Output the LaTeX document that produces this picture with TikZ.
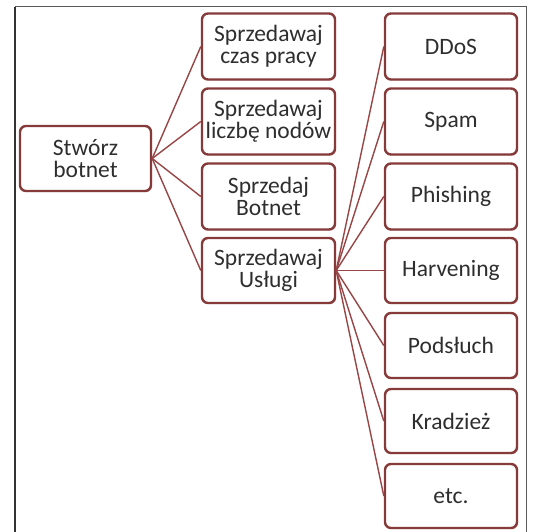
\documentclass[tikz,border=0pt]{standalone}
\usepackage{fontspec}
\setmainfont{Carlito}
\usetikzlibrary{shadows}
\definecolor{boxred}{HTML}{873A3A}
\definecolor{linkred}{HTML}{984545}
\definecolor{txt}{HTML}{2E2E2E}
\tikzset{
  item/.style={draw=boxred, line width=2.4pt, rounded corners=6pt, fill=white,
    minimum width=132pt, minimum height=66pt, inner sep=0pt, align=center,
    text=txt, font=\fontsize{23.5}{22}\selectfont,
    drop shadow={opacity=0.25, shadow xshift=1.2pt, shadow yshift=-1.2pt, fill=boxred}},
  link/.style={draw=linkred, line width=1.4pt},
}
\begin{document}
\begin{tikzpicture}[x=1pt, y=-1pt]
\useasboundingbox (0,0) rectangle (533,532);
\fill[white] (0,0) rectangle (533,532);
% page frame
\draw[gray!70!black, line width=1pt] (15,7) -- (526,7) -- (526,545);
\draw[black!80, line width=2pt] (15,7) -- (15,545);

% root
\node[item, minimum width=131pt, minimum height=65pt] (root) at (85.5,158.5) {Stwórz\\botnet};

% options
\node[item, minimum width=133pt] (czas)  at (268.5,46.5)  {Sprzedawaj\\czas pracy};
\node[item, minimum width=133pt] (nody)  at (268.5,121.5) {Sprzedawaj\\liczbę nodów};
\node[item, minimum width=133pt] (sell)  at (268.5,196.5) {Sprzedaj\\Botnet};
\node[item, minimum width=133pt, minimum height=65pt] (uslugi) at (268.5,270.5) {Sprzedawaj\\Usługi};

% services
\node[item] (ddos)  at (451,46.5)  {DDoS};
\node[item] (spam)  at (451,121.5) {Spam};
\node[item] (phish) at (451,196.5) {Phishing};
\node[item, minimum height=65pt] (harv)  at (451,270.5) {Harvening};
\node[item, minimum height=65pt] (pods)  at (451,345.5) {Podsłuch};
\node[item, minimum height=64pt] (krad)  at (451,421) {Kradzież};
\node[item, minimum height=64pt] (etc)   at (451,496) {etc.};

% connectors
\foreach \t in {czas,nody,sell,uslugi}
  \draw[link] (root.east) -- (\t.west);
\foreach \t in {ddos,spam,phish,harv,pods,krad,etc}
  \draw[link] (uslugi.east) -- (\t.west);
\end{tikzpicture}
\end{document}
